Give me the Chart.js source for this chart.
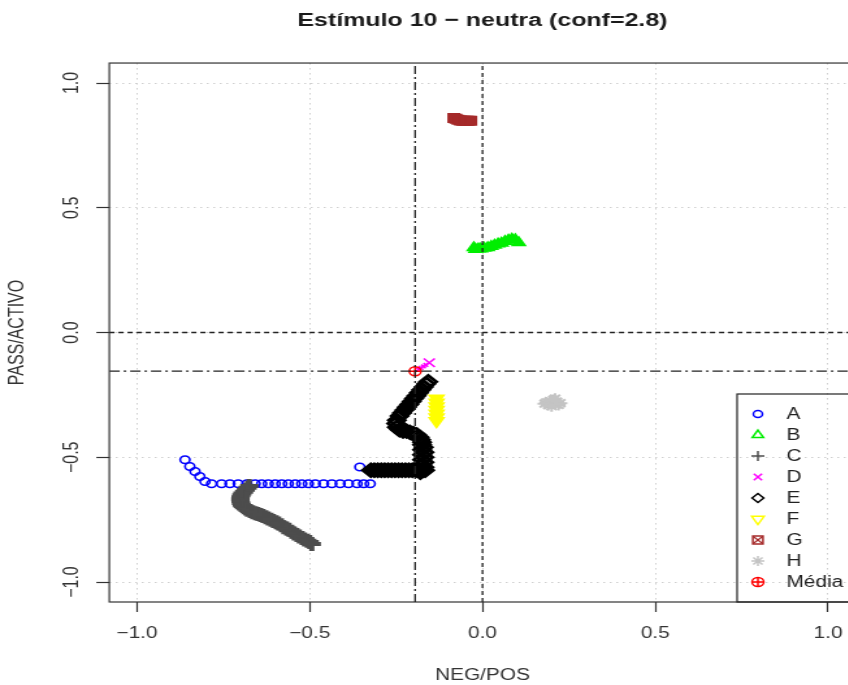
<!DOCTYPE html>
<html>
<head>
<meta charset="utf-8">
<script src="https://cdn.jsdelivr.net/npm/chart.js@4.4.1/dist/chart.umd.min.js"></script>
<style>
  html, body { margin: 0; padding: 0; background: #fff; overflow: hidden; }
  /* the reference picture is stretched sideways, so is this one */
  #wrap { width: 670px; height: 685px; transform: scaleX(1.3); transform-origin: 0 0; }
</style>
</head>
<body>
<div id="wrap"><canvas id="chart" width="670" height="685"></canvas></div>
<script>
const chartTitle = 'Estímulo 10 \u2212 neutra (conf=2.8)'
const xTitle = 'NEG/POS'
const yTitle = 'PASS/ACTIVO'
const xTicks = [-1, -0.5, 0, 0.5, 1]
const yTicks = [-1, -0.5, 0, 0.5, 1]
const legendLabels = ['A', 'B', 'C', 'D', 'E', 'F', 'G', 'H', 'Média']

const seriesA = [
  [-0.861, -0.510], [-0.847, -0.537], [-0.832, -0.557], [-0.818, -0.577], [-0.803, -0.597],
  [-0.784, -0.606], [-0.755, -0.606], [-0.731, -0.606], [-0.707, -0.606], [-0.682, -0.606],
  [-0.658, -0.606], [-0.639, -0.606], [-0.620, -0.606], [-0.600, -0.606], [-0.581, -0.606],
  [-0.562, -0.606], [-0.542, -0.606], [-0.523, -0.606], [-0.504, -0.606], [-0.484, -0.606],
  [-0.460, -0.606], [-0.436, -0.606], [-0.412, -0.606], [-0.388, -0.606], [-0.363, -0.606],
  [-0.344, -0.606], [-0.325, -0.606], [-0.355, -0.539],
]
const seriesB = [
  [-0.025, 0.340], [-0.020, 0.333], [-0.012, 0.335], [-0.005, 0.335], [0.005, 0.338],
  [0.015, 0.340], [0.025, 0.345], [0.035, 0.350], [0.045, 0.355], [0.055, 0.358],
  [0.065, 0.365], [0.075, 0.370], [0.085, 0.374], [0.095, 0.372], [0.105, 0.360],
]
const seriesC = [
  [-0.675, -0.615], [-0.680, -0.622], [-0.685, -0.630], [-0.690, -0.638], [-0.695, -0.645],
  [-0.698, -0.652], [-0.700, -0.660], [-0.701, -0.668], [-0.700, -0.675], [-0.699, -0.683],
  [-0.697, -0.690], [-0.694, -0.695], [-0.690, -0.700], [-0.685, -0.705], [-0.680, -0.710],
  [-0.672, -0.715], [-0.665, -0.720], [-0.657, -0.724], [-0.650, -0.727], [-0.642, -0.731],
  [-0.635, -0.735], [-0.627, -0.740], [-0.620, -0.745], [-0.612, -0.750], [-0.605, -0.755],
  [-0.597, -0.760], [-0.590, -0.765], [-0.582, -0.772], [-0.575, -0.780], [-0.567, -0.785],
  [-0.560, -0.790], [-0.552, -0.798], [-0.545, -0.805], [-0.537, -0.811], [-0.530, -0.817],
  [-0.522, -0.824], [-0.515, -0.830], [-0.507, -0.835], [-0.500, -0.840], [-0.494, -0.848],
]
const seriesD = [
  [-0.185, -0.148], [-0.178, -0.142], [-0.171, -0.136], [-0.164, -0.130], [-0.154, -0.121],
]
const seriesE = [
  [-0.323, -0.552], [-0.313, -0.552], [-0.303, -0.552], [-0.293, -0.552], [-0.283, -0.552],
  [-0.273, -0.552], [-0.263, -0.552], [-0.253, -0.552], [-0.243, -0.552], [-0.233, -0.552],
  [-0.223, -0.552], [-0.213, -0.552], [-0.203, -0.552], [-0.193, -0.552], [-0.183, -0.552],
  [-0.173, -0.552], [-0.166, -0.552], [-0.190, -0.545], [-0.180, -0.560],
  [-0.168, -0.540], [-0.175, -0.530], [-0.168, -0.520], [-0.175, -0.510], [-0.168, -0.500],
  [-0.175, -0.490], [-0.168, -0.480], [-0.175, -0.470], [-0.170, -0.460], [-0.175, -0.450],
  [-0.175, -0.440], [-0.178, -0.430], [-0.182, -0.420], [-0.190, -0.410],
  [-0.200, -0.405], [-0.210, -0.400], [-0.220, -0.395], [-0.230, -0.395], [-0.240, -0.390],
  [-0.248, -0.380], [-0.250, -0.365], [-0.248, -0.352],
  [-0.240, -0.335], [-0.233, -0.323], [-0.226, -0.311], [-0.219, -0.299], [-0.212, -0.288],
  [-0.205, -0.276], [-0.198, -0.264], [-0.191, -0.253], [-0.184, -0.241], [-0.177, -0.229],
  [-0.170, -0.218], [-0.163, -0.206], [-0.157, -0.197],
]
const seriesF = [
  [-0.133, -0.264], [-0.133, -0.280], [-0.133, -0.295], [-0.133, -0.310],
  [-0.133, -0.325], [-0.133, -0.340], [-0.133, -0.355],
]
const seriesG = [
  [-0.083, 0.860], [-0.077, 0.857], [-0.071, 0.853], [-0.064, 0.850], [-0.058, 0.849],
  [-0.052, 0.849], [-0.046, 0.849], [-0.040, 0.849], [-0.034, 0.849],
]
const seriesH = [
  [0.180, -0.285], [0.185, -0.280], [0.190, -0.290], [0.195, -0.275], [0.200, -0.283],
  [0.205, -0.270], [0.210, -0.285], [0.215, -0.278], [0.220, -0.290], [0.225, -0.283],
  [0.200, -0.295], [0.210, -0.265],
]
const mediaPoint = [[-0.195, -0.155]]

const axisMin = -1.08
const axisMax = 1.08

const toXY = arr => arr.map(([x, y]) => ({x, y}))
const fmt = v => (v < 0 ? '\u2212' : '') + Math.abs(v).toFixed(1)
const FONT = '"Liberation Sans", Arial, sans-serif'

// look of each series (R pch symbols)
const looks = {
  A: {color: '#0000ff', style: 'circle', r: 3.7, bw: 1.6, fill: false},
  B: {color: '#00ee00', style: 'triangle', r: 5.2, bw: 2, fill: true},
  C: {color: '#4d4d4d', style: 'cross', r: 7, bw: 4, fill: false},
  D: {color: '#ff00ff', style: 'crossRot', r: 6, bw: 1.6, fill: false},
  E: {color: '#000000', style: 'rectRot', r: 6.2, bw: 2.8, fill: false},
  F: {color: '#ffff00', style: 'triangle', rot: 180, r: 6.5, bw: 1.5, fill: true},
  G: {color: '#a52a2a', style: 'rect', r: 6, bw: 1.5, fill: true},
  H: {color: '#c4c4c4', style: 'star', r: 5.5, bw: 2, fill: false},
  M: {color: '#ff0000', style: 'circle', r: 4.5, bw: 1.5, fill: false},
}

function pointSet(label, data, look, order, extra) {
  return Object.assign({
    label: label,
    data: toXY(data),
    pointStyle: look.style,
    rotation: look.rot || 0,
    pointRadius: look.r,
    pointHoverRadius: look.r,
    pointBorderWidth: look.bw,
    borderColor: look.color,
    backgroundColor: look.fill ? look.color : 'rgba(0,0,0,0)',
    order: order,
  }, extra || {})
}

function refLine(points, dash) {
  return {
    type: 'line',
    data: toXY(points),
    borderColor: '#222',
    borderWidth: 1.3,
    borderDash: dash,
    pointRadius: 0,
    showLine: true,
    fill: false,
    order: 0,
  }
}

const mx = mediaPoint[0][0]
const my = mediaPoint[0][1]

const datasets = [
  pointSet('A', seriesA, looks.A, 10),
  pointSet('B', seriesB, looks.B, 9),
  pointSet('C', seriesC, looks.C, 8),
  pointSet('D', seriesD, looks.D, 7, {
    pointRadius: c => c.dataIndex === seriesD.length - 1 ? 6 : 2.5,
  }),
  pointSet('E', seriesE, looks.E, 6),
  pointSet('F', seriesF, looks.F, 5),
  pointSet('G', seriesG, looks.G, 4),
  pointSet('H', seriesH, looks.H, 3),
  pointSet('Média', mediaPoint, looks.M, 2),
  pointSet('Média+', mediaPoint, {color: '#ff0000', style: 'cross', r: 4.5, bw: 1.5}, 1),
  refLine([[0, axisMin], [0, axisMax]], [4, 3]),
  refLine([[axisMin, 0], [axisMax, 0]], [4, 3]),
  refLine([[mx, axisMin], [mx, axisMax]], [8, 3, 2, 3]),
  refLine([[axisMin, my], [axisMax, my]], [8, 3, 2, 3]),
]

function symbol(ctx, look, x, y, r) {
  ctx.save()
  ctx.strokeStyle = look.color
  ctx.fillStyle = look.fill ? look.color : 'rgba(0,0,0,0)'
  ctx.lineWidth = look.bw
  Chart.helpers.drawPoint(ctx, {pointStyle: look.style, rotation: look.rot || 0, radius: r, borderWidth: look.bw}, x, y)
  ctx.restore()
}

const boxPlugin = {
  id: 'box',
  beforeDatasetsDraw(chart) {
    const {ctx, chartArea: a} = chart
    ctx.save()
    ctx.strokeStyle = '#333'
    ctx.lineWidth = 1.2
    ctx.strokeRect(a.left, a.top, a.right - a.left, a.bottom - a.top)
    ctx.restore()
  }
}

const yLabelPlugin = {
  id: 'yLabels',
  afterDraw(chart) {
    const {ctx} = chart
    const s = chart.scales.y
    ctx.save()
    ctx.font = '16px ' + FONT
    ctx.fillStyle = '#333'
    ctx.textAlign = 'center'
    ctx.textBaseline = 'middle'
    s.ticks.forEach(t => {
      ctx.save()
      ctx.translate(56, s.getPixelForValue(t.value))
      ctx.rotate(-Math.PI / 2)
      ctx.fillText(fmt(t.value), 0, 0)
      ctx.restore()
    })
    ctx.restore()
  }
}

const legendPlugin = {
  id: 'rLegend',
  afterDraw(chart) {
    const {ctx} = chart
    const left = 567, top = 394, bottom = 602
    ctx.save()
    ctx.strokeStyle = '#222'
    ctx.lineWidth = 1.2
    ctx.strokeRect(left, top, 200, bottom - top)
    const keys = ['A', 'B', 'C', 'D', 'E', 'F', 'G', 'H', 'M']
    ctx.font = '16px ' + FONT
    ctx.textAlign = 'left'
    ctx.textBaseline = 'middle'
    legendLabels.forEach((lab, i) => {
      const y = 414 + i * 21
      const look = looks[keys[i]]
      if (keys[i] === 'G') {
        symbol(ctx, Object.assign({}, look, {fill: false}), 583, y, 5.5)
        symbol(ctx, Object.assign({}, look, {style: 'crossRot', fill: false, bw: 1.2}), 583, y, 5)
      } else if (keys[i] === 'M') {
        symbol(ctx, look, 583, y, 4.5)
        symbol(ctx, Object.assign({}, look, {style: 'cross'}), 583, y, 4.5)
      } else {
        const r = {A: 3.5, B: 5, C: 5, D: 4.5, E: 4.5, F: 5.5, H: 5}[keys[i]]
        symbol(ctx, Object.assign({}, look, {fill: false, bw: 1.5}), 583, y, r)
      }
      ctx.fillStyle = '#222'
      ctx.fillText(lab, 605, y + 1)
    })
    ctx.restore()
  }
}

const gridCommon = {
  color: '#cfcfcf',
  lineWidth: 1,
  drawTicks: true,
  tickLength: 10,
  tickColor: '#333',
  tickWidth: 1.2,
  tickBorderDash: [],
}

new Chart(document.getElementById('chart'), {
  type: 'scatter',
  data: {datasets: datasets},
  options: {
    responsive: false,
    animation: false,
    layout: {padding: {left: 0, right: 11.8, top: 0, bottom: 0}},
    plugins: {
      legend: {display: false},
      tooltip: {enabled: false},
      title: {
        display: true,
        text: chartTitle,
        fullSize: false,
        color: '#1a1a1a',
        font: {family: FONT, size: 19.2, weight: 'bold'},
        padding: {top: 9.5, bottom: 30.5},
      },
    },
    scales: {
      x: {
        type: 'linear',
        min: axisMin,
        max: axisMax,
        afterBuildTicks: s => { s.ticks = xTicks.map(v => ({value: v})) },
        afterFit: s => { s.height = 83 },
        grid: gridCommon,
        border: {display: false, dash: [1.5, 3.5]},
        ticks: {
          color: '#333',
          padding: 12.4,
          maxRotation: 0,
          font: {family: FONT, size: 16},
          callback: v => fmt(v),
        },
        title: {
          display: true,
          text: xTitle,
          color: '#333',
          font: {family: FONT, size: 16},
          padding: {top: 0, bottom: 0},
        },
      },
      y: {
        type: 'linear',
        min: axisMin,
        max: axisMax,
        afterBuildTicks: s => { s.ticks = yTicks.map(v => ({value: v})) },
        afterFit: s => { s.width = 84.1 },
        grid: gridCommon,
        border: {display: false, dash: [1.5, 3.5]},
        ticks: {display: false},
        title: {
          display: true,
          text: yTitle,
          color: '#333',
          font: {family: FONT, size: 16},
          padding: {top: 4.4, bottom: 0},
        },
      },
    },
  },
  plugins: [boxPlugin, yLabelPlugin, legendPlugin],
})
</script>
</body>
</html>
